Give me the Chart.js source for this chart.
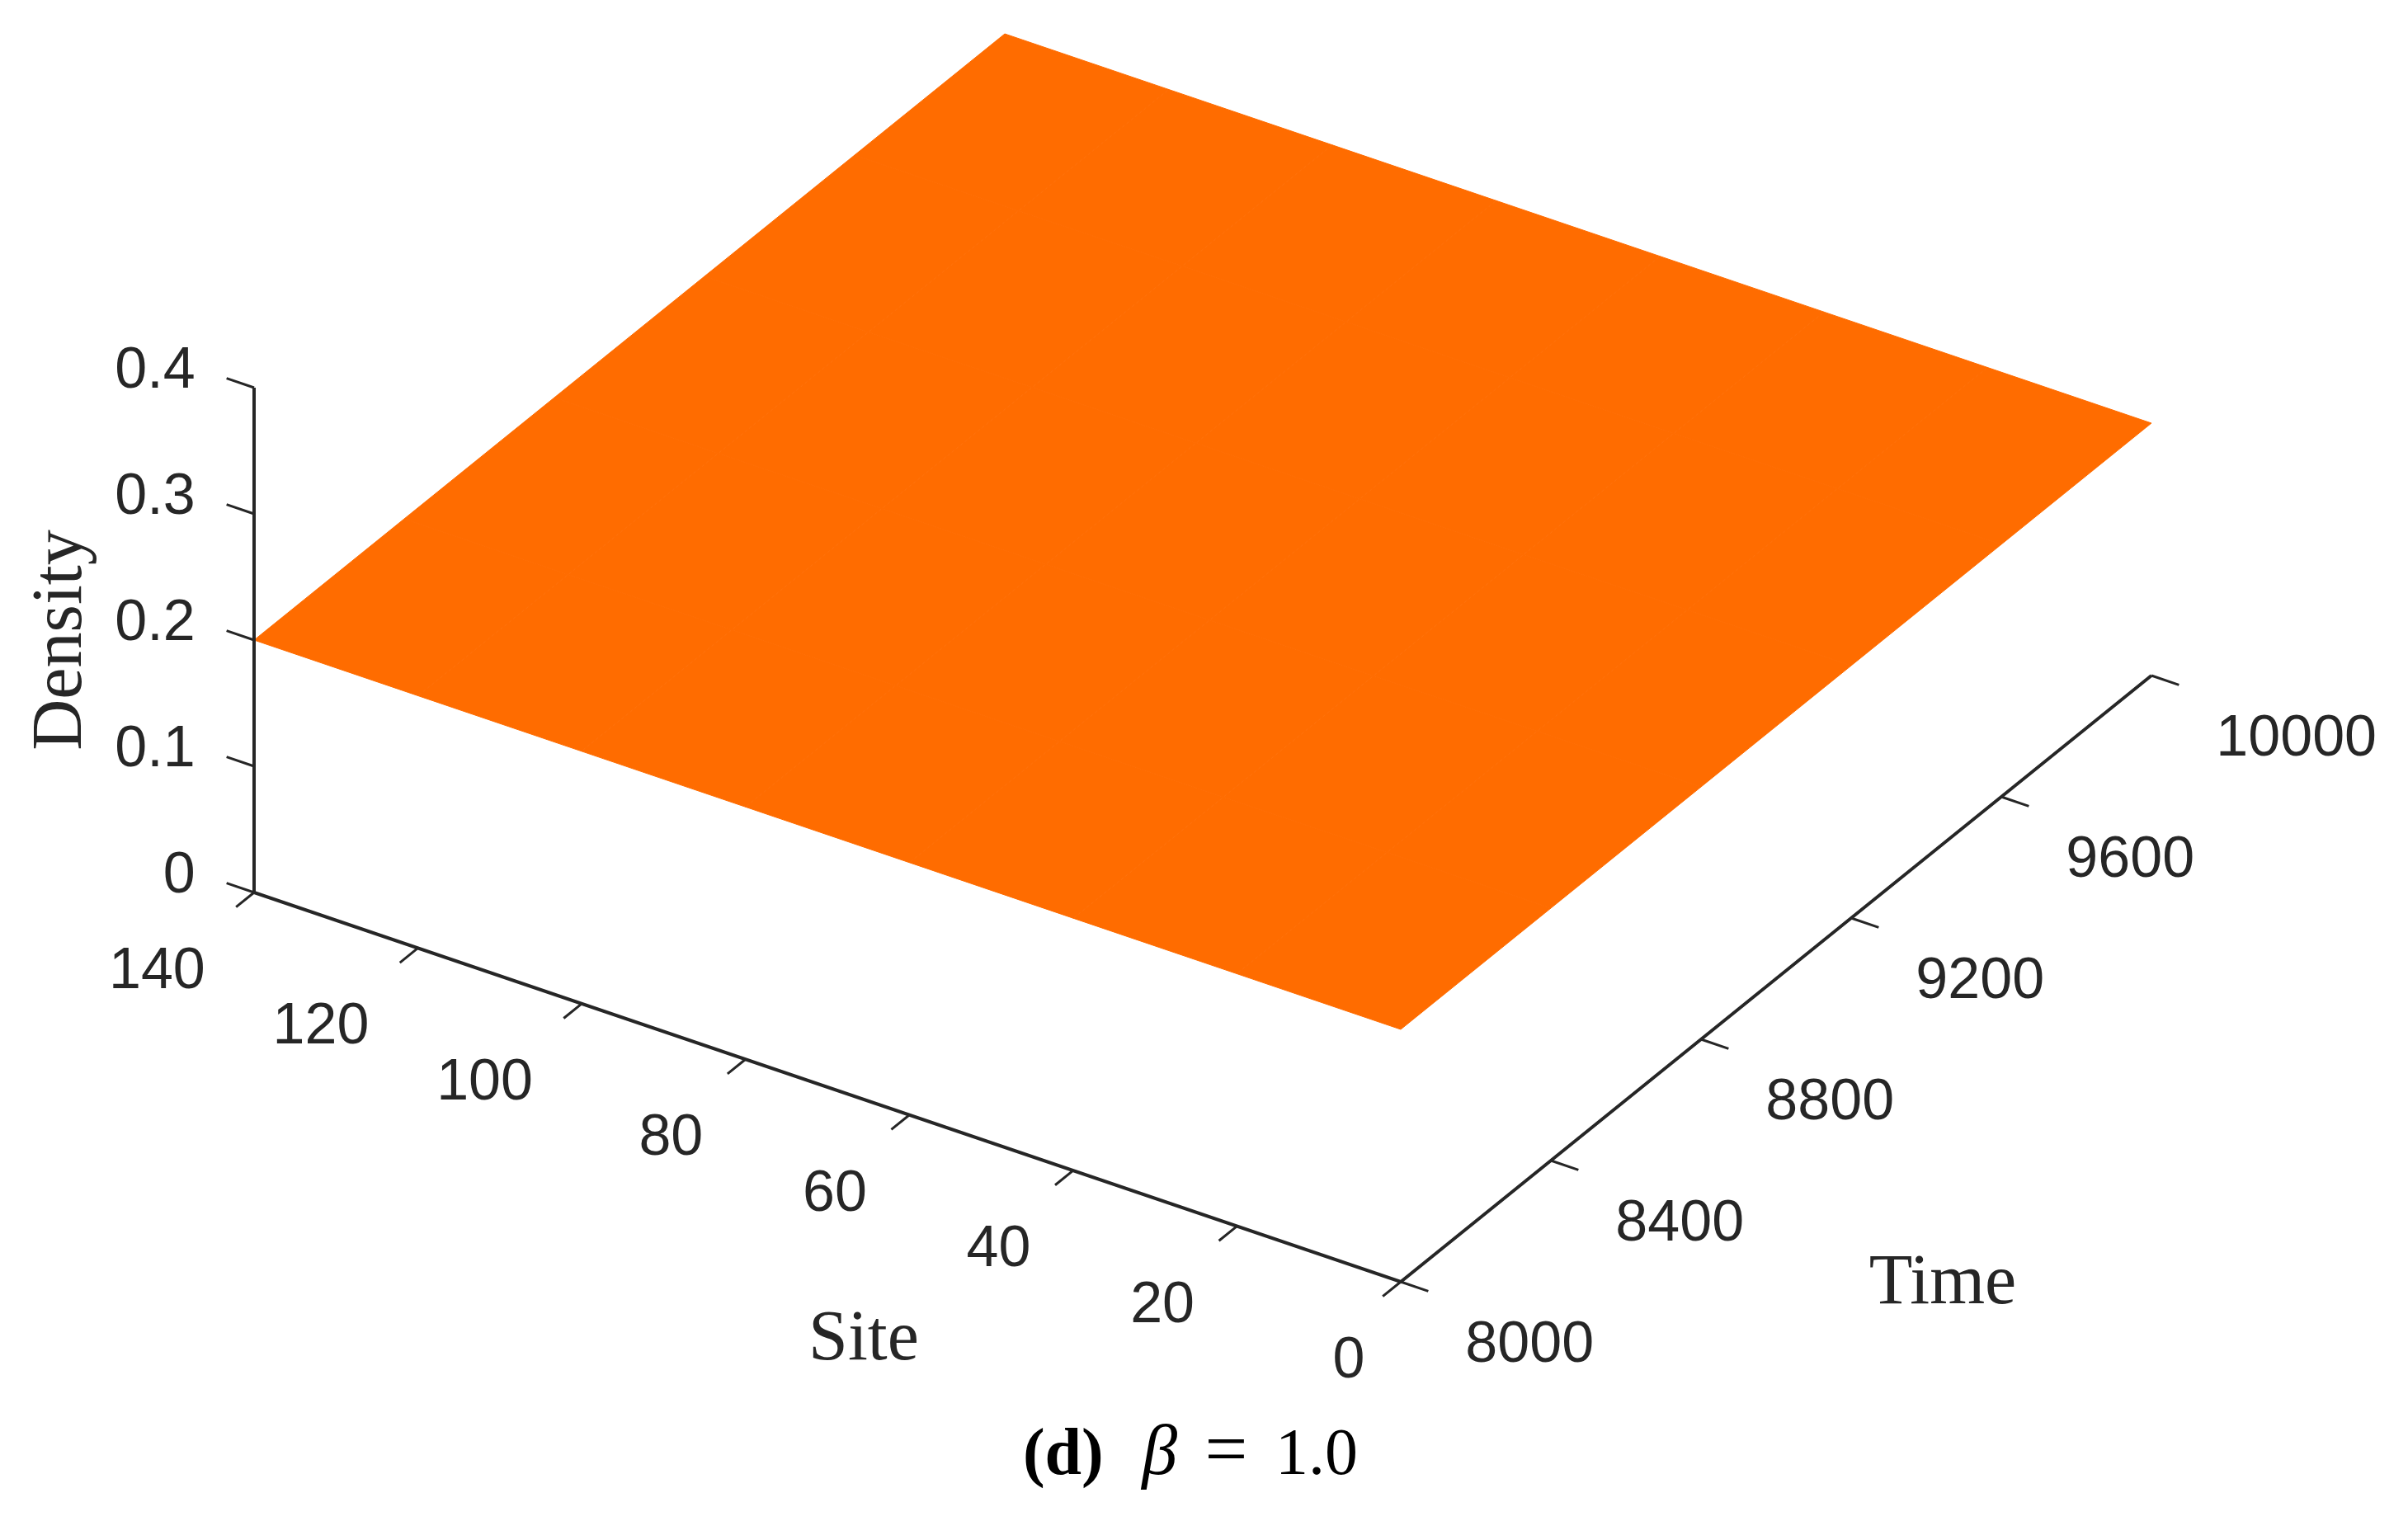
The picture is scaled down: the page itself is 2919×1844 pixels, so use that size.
<!DOCTYPE html>
<html>
<head>
<meta charset="utf-8">
<script src="https://cdn.jsdelivr.net/npm/chart.js@4.4.1/dist/chart.umd.min.js"></script>
<style>
  html, body { margin: 0; padding: 0; background: #fff; }
  #wrap { width: 2919px; height: 1844px; }
</style>
</head>
<body>
<div id="wrap"><canvas id="surf" width="2919" height="1844"></canvas></div>
<script>
// tick values on the three axes
const siteTicks = [0, 20, 40, 60, 80, 100, 120, 140];
const timeTicks = [8000, 8400, 8800, 9200, 9600, 10000];
const densityTicks = [0, 0.1, 0.2, 0.3, 0.4];

// surface grid, beta = 1.0 -> density stays flat
const gridSites = [0, 20, 40, 60, 80, 100, 120, 140];
const gridTimes = [8000, 8400, 8800, 9200, 9600, 10000];
const gridDensity = [
  [0.2, 0.2, 0.2, 0.2, 0.2, 0.2, 0.2, 0.2],
  [0.2, 0.2, 0.2, 0.2, 0.2, 0.2, 0.2, 0.2],
  [0.2, 0.2, 0.2, 0.2, 0.2, 0.2, 0.2, 0.2],
  [0.2, 0.2, 0.2, 0.2, 0.2, 0.2, 0.2, 0.2],
  [0.2, 0.2, 0.2, 0.2, 0.2, 0.2, 0.2, 0.2],
  [0.2, 0.2, 0.2, 0.2, 0.2, 0.2, 0.2, 0.2]
];

const siteRange = [0, 140];
const timeRange = [8000, 10000];
const densityRange = [0, 0.4];

// view setup: where the (site 0, time 8000, density 0) corner sits and how each axis runs
const view = {
  origin: [1698, 1554],
  site: [-1390, -472],
  time: [910, -735],
  density: [0, -612]
};

const surfColor = '#ff6c00';
const axisColor = '#262626';
const tickFrac = 0.024;

function project(s, t, d) {
  const fs = (s - siteRange[0]) / (siteRange[1] - siteRange[0]);
  const ft = (t - timeRange[0]) / (timeRange[1] - timeRange[0]);
  const fd = (d - densityRange[0]) / (densityRange[1] - densityRange[0]);
  return {
    x: view.origin[0] + fs * view.site[0] + ft * view.time[0] + fd * view.density[0],
    y: view.origin[1] + fs * view.site[1] + ft * view.time[1] + fd * view.density[1]
  };
}

const gap = { x: 0, y: null };
const sMax = siteRange[1], tMin = timeRange[0];
const tickS = tickFrac * (siteRange[1] - siteRange[0]);
const tickT = tickFrac * (timeRange[1] - timeRange[0]);

// box edges: density axis, site axis, time axis as one polyline
const axisPts = [
  project(sMax, tMin, densityRange[1]),
  project(sMax, tMin, 0),
  project(siteRange[0], tMin, 0),
  project(siteRange[0], timeRange[1], 0)
];

// tick marks, pointing away from the box
const tickPts = [];
densityTicks.forEach(d => tickPts.push(project(sMax, tMin, d), project(sMax + tickS, tMin, d), gap));
siteTicks.forEach(s => tickPts.push(project(s, tMin, 0), project(s, tMin - tickT, 0), gap));
timeTicks.forEach(t => tickPts.push(project(0, t, 0), project(-tickS, t, 0), gap));

const lineStyle = {
  showLine: true, pointRadius: 0, borderColor: axisColor,
  fill: false, tension: 0, spanGaps: false
};

// surface cells drawn through the chart scales
const surfacePlugin = {
  id: 'surface',
  beforeDatasetsDraw(chart) {
    const ctx = chart.ctx;
    const xs = chart.scales.x, ys = chart.scales.y;
    const pt = (s, t, d) => {
      const p = project(s, t, d);
      return [xs.getPixelForValue(p.x), ys.getPixelForValue(p.y)];
    };
    ctx.save();
    ctx.fillStyle = surfColor;
    ctx.strokeStyle = surfColor;
    ctx.lineWidth = 1;
    for (let j = 0; j < gridTimes.length - 1; j++) {
      for (let i = 0; i < gridSites.length - 1; i++) {
        const c = [
          pt(gridSites[i], gridTimes[j], gridDensity[j][i]),
          pt(gridSites[i + 1], gridTimes[j], gridDensity[j][i + 1]),
          pt(gridSites[i + 1], gridTimes[j + 1], gridDensity[j + 1][i + 1]),
          pt(gridSites[i], gridTimes[j + 1], gridDensity[j + 1][i])
        ];
        ctx.beginPath();
        ctx.moveTo(c[0][0], c[0][1]);
        for (let k = 1; k < 4; k++) ctx.lineTo(c[k][0], c[k][1]);
        ctx.closePath();
        ctx.fill();
        ctx.stroke();
      }
    }
    ctx.restore();
  }
};

// tick labels, axis titles and caption
const textPlugin = {
  id: 'texts',
  afterDatasetsDraw(chart) {
    const ctx = chart.ctx;
    const xs = chart.scales.x, ys = chart.scales.y;
    const pt = (s, t, d) => {
      const p = project(s, t, d);
      return [xs.getPixelForValue(p.x), ys.getPixelForValue(p.y)];
    };
    ctx.save();
    ctx.fillStyle = axisColor;
    ctx.font = '70px "Liberation Sans", Arial, sans-serif';
    ctx.textBaseline = 'middle';

    // labels sit just past the outer end of each tick
    ctx.textAlign = 'right';
    densityTicks.forEach(d => {
      const [x, y] = pt(sMax + tickS, tMin, d);
      ctx.fillText(String(d), x - 38, y - 8);
    });
    siteTicks.forEach(s => {
      const [x, y] = pt(s, tMin - tickT, 0);
      const lw = ctx.measureText(String(s)).width;
      ctx.fillText(String(s), x - 14 - 0.2 * lw, y + 79);
    });
    ctx.textAlign = 'left';
    timeTicks.forEach(t => {
      const [x, y] = pt(-tickS, t, 0);
      ctx.fillText(String(t), x + 45, y + 66);
    });

    // axis titles
    ctx.font = '86px "Liberation Serif", "Times New Roman", serif';
    ctx.textAlign = 'center';
    ctx.textBaseline = 'alphabetic';
    ctx.fillText('Site', 1047, 1648);
    ctx.fillText('Time', 2355, 1580);
    ctx.save();
    ctx.translate(98, 776);
    ctx.rotate(-Math.PI / 2);
    ctx.fillText('Density', 0, 0);
    ctx.restore();

    // caption: (d)  beta = 1.0
    ctx.fillStyle = '#000';
    ctx.textAlign = 'left';
    const em = 80;
    const serif = 'px "Liberation Serif", serif';
    const parts = [
      { t: '(d)', f: 'bold ' + em + serif, after: 0.58 },
      { t: '\u03B2', f: 'italic ' + 86 + serif, after: 0.42 },
      { t: '=', f: 92 + serif, after: 0.42 },
      { t: '1.0', f: em + serif, after: 0 }
    ];
    let w = 0;
    parts.forEach(p => { ctx.font = p.f; p.w = ctx.measureText(p.t).width; w += p.w + p.after * em; });
    let cx = 1443 - w / 2;
    parts.forEach(p => { ctx.font = p.f; ctx.fillText(p.t, cx, 1787); cx += p.w + p.after * em; });
    ctx.restore();
  }
};

new Chart(document.getElementById('surf'), {
  type: 'scatter',
  data: {
    datasets: [
      Object.assign({ label: 'axes', data: axisPts, borderWidth: 4 }, lineStyle),
      Object.assign({ label: 'ticks', data: tickPts, borderWidth: 3 }, lineStyle)
    ]
  },
  options: {
    responsive: false,
    animation: false,
    devicePixelRatio: 1,
    events: [],
    layout: { padding: 0 },
    plugins: { legend: { display: false }, tooltip: { enabled: false } },
    scales: {
      x: { type: 'linear', min: 0, max: 2919, display: false },
      y: { type: 'linear', min: 0, max: 1844, reverse: true, display: false }
    }
  },
  plugins: [surfacePlugin, textPlugin]
});
</script>
</body>
</html>
